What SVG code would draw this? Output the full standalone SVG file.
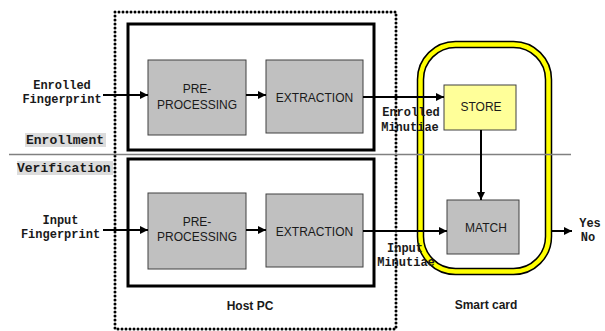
<svg xmlns="http://www.w3.org/2000/svg" width="605" height="331" viewBox="0 0 605 331">
<style>
.proc{fill:#c0c0c0;stroke:#404040;stroke-width:1}
.store{fill:#ffff99;stroke:#404040;stroke-width:1}
.frame{fill:none;stroke:#000;stroke-width:3}
.lbl{font-family:"Liberation Sans",Arial,sans-serif;font-size:12px;fill:#1a1a1a;text-anchor:middle}
.bold{font-weight:bold}
.mono{font-family:"Liberation Mono","Courier New",monospace;font-size:12px;font-weight:bold;fill:#1a1a1a;text-anchor:middle}
.tag{font-family:"Liberation Mono","Courier New",monospace;font-size:13px;font-weight:bold;fill:#1a1a1a}
.conn{stroke:#000;stroke-width:2;fill:none}
</style>
<defs>
<marker id="ah" viewBox="0 0 10 10" refX="10" refY="5" markerWidth="9" markerHeight="8" markerUnits="userSpaceOnUse" orient="auto">
<path d="M0,0 L10,5 L0,10 z" fill="#000"/>
</marker>
</defs>
<rect width="605" height="331" fill="#fff"/>

<g id="host-pc">
<rect x="115" y="12" width="281" height="317" fill="none" stroke="#000" stroke-width="3" stroke-dasharray="0 4" stroke-linecap="round"/>
<text class="lbl bold" x="250" y="310">Host PC</text>
</g>

<g id="smart-card">
<rect x="420.5" y="44.5" width="128" height="227" rx="35" fill="none" stroke="#000" stroke-width="7.5"/>
<rect x="420.5" y="44.5" width="128" height="227" rx="35" fill="none" stroke="#ffff00" stroke-width="4.5"/>
<text class="lbl bold" x="486" y="309">Smart card</text>
</g>

<g id="separator">
<line x1="9" y1="154.5" x2="571" y2="154.5" stroke="#808080" stroke-width="1.5"/>
</g>

<g id="enrollment-frame">
<rect class="frame" x="128" y="24" width="246" height="126"/>
<rect x="25" y="133" width="81" height="14" fill="#dcdcdc"/>
<text class="tag" x="26" y="143.5">Enrollment</text>
</g>

<g id="verification-frame">
<rect class="frame" x="128" y="159" width="246" height="127"/>
<rect x="17" y="161" width="96" height="14" fill="#dcdcdc"/>
<text class="tag" x="17" y="171.5">Verification</text>
</g>

<g id="enroll-pre">
<rect class="proc" x="148" y="60" width="98" height="75"/>
<text class="lbl" x="197" y="92.5">PRE-</text>
<text class="lbl" x="197" y="108.5">PROCESSING</text>
</g>

<g id="enroll-ext">
<rect class="proc" x="266" y="60" width="97" height="73"/>
<text class="lbl" x="314.5" y="101.5">EXTRACTION</text>
</g>

<g id="verify-pre">
<rect class="proc" x="148" y="193" width="98" height="76"/>
<text class="lbl" x="197" y="225.5">PRE-</text>
<text class="lbl" x="197" y="240.5">PROCESSING</text>
</g>

<g id="verify-ext">
<rect class="proc" x="266" y="194" width="97" height="73"/>
<text class="lbl" x="314.5" y="235.5">EXTRACTION</text>
</g>

<g id="store">
<rect class="store" x="444" y="85" width="72" height="45"/>
<text class="lbl" x="481" y="111">STORE</text>
</g>

<g id="match">
<rect class="proc" x="447" y="200" width="72" height="54"/>
<text class="lbl" x="486" y="232">MATCH</text>
</g>

<g id="labels">
<text class="mono" x="62" y="89">Enrolled</text>
<text class="mono" x="62" y="103">Fingerprint</text>
<text class="mono" x="60.5" y="224">Input</text>
<text class="mono" x="60.5" y="238">Fingerprint</text>
<text class="mono" x="411" y="116">Enrolled</text>
<text class="mono" x="410" y="130.5">Minutiae</text>
<text class="mono" x="405" y="252">Input</text>
<text class="mono" x="406" y="266">Minutiae</text>
<text class="mono" x="590" y="227">Yes</text>
<text class="mono" x="588" y="241">No</text>
</g>

<g id="connectors">
<line class="conn" x1="103" y1="95" x2="148" y2="95" marker-end="url(#ah)"/>
<line class="conn" x1="246" y1="95" x2="266" y2="95" marker-end="url(#ah)"/>
<line class="conn" x1="363" y1="97" x2="444" y2="97" marker-end="url(#ah)"/>
<line class="conn" x1="481" y1="130" x2="481" y2="200" marker-end="url(#ah)"/>
<line class="conn" x1="103" y1="230" x2="148" y2="230" marker-end="url(#ah)"/>
<line class="conn" x1="246" y1="230" x2="266" y2="230" marker-end="url(#ah)"/>
<line class="conn" x1="363" y1="231" x2="447" y2="231" marker-end="url(#ah)"/>
<line class="conn" x1="552" y1="231" x2="572" y2="231" marker-end="url(#ah)"/>
</g>
</svg>
